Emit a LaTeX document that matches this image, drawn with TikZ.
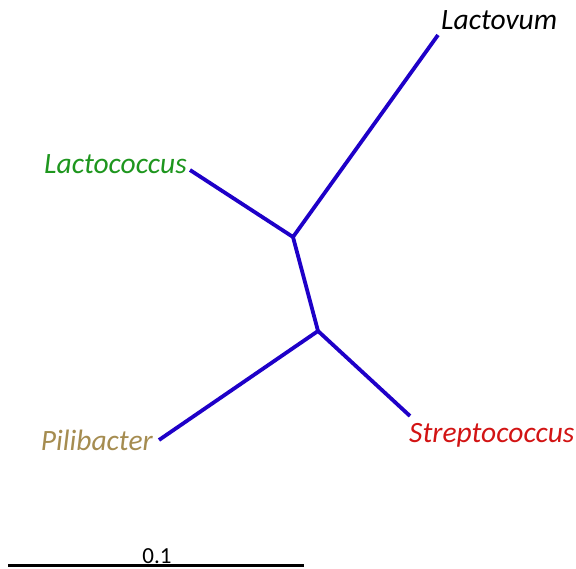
\documentclass[tikz,border=0pt]{standalone}
\usepackage{fontspec}
\setmainfont{Carlito}
\usepackage{tikz}
\usetikzlibrary{positioning}

\definecolor{branchblue}{RGB}{30,0,200}
\definecolor{lcgreen}{RGB}{30,150,30}
\definecolor{pbtan}{RGB}{165,140,80}
\definecolor{scred}{RGB}{210,20,20}

\begin{document}
\begin{tikzpicture}[x=1pt,y=-1pt,
    branch/.style={draw=branchblue,line width=3.8pt,line join=round},
    taxon/.style={font=\fontsize{29.5}{32}\selectfont\itshape,inner sep=0pt}]
    \useasboundingbox (0,0) rectangle (576,568);
    \coordinate (up) at (293,237);
    \coordinate (low) at (318,331);
    \coordinate (tLactovum) at (438,35);
    \coordinate (tLactococcus) at (190,170);
    \coordinate (tPilibacter) at (159,440);
    \coordinate (tStrepto) at (410,416);
    \draw [branch] (tLactococcus) -- (up) -- (tLactovum);
    \draw [branch] (up) -- (low);
    \draw [branch] (tPilibacter) -- (low) -- (tStrepto);
    \node [taxon,anchor=base west] (lactovum) at (441,29) {Lactovum};
    \node [taxon,anchor=base east,text=lcgreen] (lactococcus) at (187,173) {Lactococcus};
    \node [taxon,anchor=base east,text=pbtan] (pilibacter) at (153,450) {Pilibacter};
    \node [taxon,anchor=base west,text=scred] (strepto) at (409,442) {Streptococcus};
    % scale bar
    \coordinate (sbl) at (8,565);
    \coordinate (sbr) at (304,565);
    \draw [line width=3pt] (sbl) -- (sbr);
    \node [font=\fontsize{23}{25}\selectfont,anchor=base,inner sep=0pt] (scale) at (157,563) {0.1};
\end{tikzpicture}
\end{document}
